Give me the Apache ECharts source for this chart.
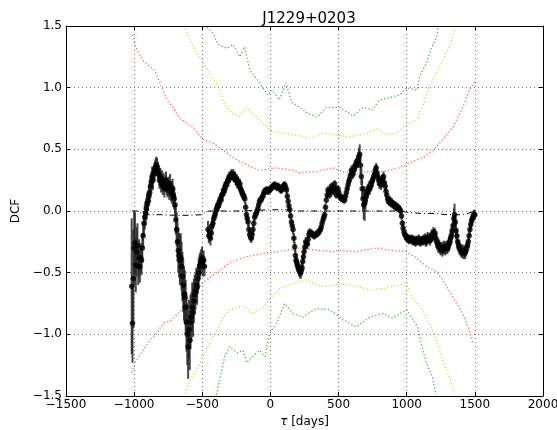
<!DOCTYPE html>
<html>
<head>
<meta charset="utf-8">
<script src="https://cdn.jsdelivr.net/npm/echarts@6/dist/echarts.min.js"></script>
<style>html,body{margin:0;padding:0;background:#fff}#c{width:557px;height:430px}</style>
</head>
<body>
<div id="c"></div>
<script>
// ---- data ----
const titleText = 'J1229+0203';
const xTicks = [-1500, -1000, -500, 0, 500, 1000, 1500, 2000];
const yTicks = [-1.5, -1.0, -0.5, 0.0, 0.5, 1.0, 1.5];

// [tau (days), DCF, error]
const dcfData = [
[-1018,-0.61,0.55],[-1012,-0.91,0.32],[-1006,-0.55,0.4],[-1000,-0.3,0.3],[-994,-0.26,0.25],[-988,-0.44,0.22],[-982,-0.33,0.2],[-976,-0.28,0.18],[-970,-0.45,0.15],[-964,-0.38,0.15],[-958,-0.45,0.13],[-952,-0.38,0.12],[-946,-0.4,0.12],[-940,-0.3,0.12],[-934,-0.2,0.1],[-928,-0.1,0.1],[-922,-0.05,0.1],[-916,-0.02,0.1],[-910,0.02,0.09],[-904,0.06,0.09],
[-898,0.08,0.08],[-892,0.12,0.08],[-886,0.15,0.08],[-880,0.2,0.08],[-874,0.24,0.08],[-868,0.28,0.08],[-862,0.25,0.08],[-856,0.3,0.07],[-850,0.33,0.07],[-844,0.35,0.07],[-838,0.37,0.07],[-832,0.36,0.07],[-826,0.33,0.07],[-820,0.3,0.07],[-814,0.25,0.07],[-808,0.28,0.07],[-802,0.22,0.07],[-796,0.26,0.07],[-790,0.2,0.07],[-784,0.24,0.07],[-778,0.18,0.07],[-772,0.22,0.07],[-766,0.25,0.07],[-760,0.2,0.07],[-754,0.18,0.07],[-748,0.2,0.08],[-742,0.17,0.08],[-736,0.22,0.08],[-730,0.16,0.08],[-724,0.14,0.08],[-718,0.18,0.08],[-712,0.12,0.09],[-706,0.1,0.09],[-700,0.05,0.1],
[-694,-0.07,0.12],[-688,-0.15,0.14],[-682,-0.25,0.16],[-676,-0.32,0.18],[-670,-0.36,0.18],[-664,-0.4,0.2],[-658,-0.38,0.2],[-652,-0.45,0.2],[-646,-0.53,0.2],[-640,-0.6,0.22],[-634,-0.67,0.22],[-628,-0.7,0.22],[-622,-0.78,0.22],[-616,-0.9,0.24],[-610,-1.0,0.25],[-604,-1.1,0.26],[-598,-0.96,0.24],[-592,-1.05,0.24],[-586,-0.9,0.22],[-580,-0.86,0.2],[-574,-0.78,0.2],[-568,-0.82,0.2],[-562,-0.73,0.18],[-556,-0.68,0.16],[-550,-0.65,0.15],[-544,-0.6,0.14],[-538,-0.62,0.14],[-532,-0.55,0.12],[-526,-0.5,0.12],[-520,-0.45,0.1],[-514,-0.43,0.1],[-508,-0.41,0.1],[-502,-0.38,0.09],[-496,-0.44,0.09],[-490,-0.4,0.08],[-484,-0.45,0.08],
[-458,-0.15,0.07],[-452,-0.2,0.06],[-446,-0.17,0.06],[-440,-0.22,0.06],[-434,-0.18,0.05],[-428,-0.12,0.05],[-422,-0.1,0.05],[-416,-0.06,0.05],[-410,-0.04,0.04],[-404,-0.02,0.04],[-398,0.01,0.04],[-392,0.03,0.04],[-386,0.05,0.04],[-380,0.04,0.04],[-374,0.08,0.04],[-368,0.1,0.04],[-362,0.09,0.04],[-356,0.13,0.04],[-350,0.14,0.04],[-344,0.17,0.04],[-338,0.16,0.04],[-332,0.2,0.04],[-326,0.22,0.04],[-320,0.21,0.04],[-314,0.24,0.04],[-308,0.26,0.04],[-302,0.28,0.04],[-296,0.27,0.04],[-290,0.29,0.04],[-284,0.3,0.04],[-278,0.28,0.04],[-272,0.3,0.04],[-266,0.27,0.04],[-260,0.28,0.04],[-254,0.25,0.04],[-248,0.26,0.04],[-242,0.22,0.04],[-236,0.24,0.04],[-230,0.2,0.04],[-224,0.22,0.04],[-218,0.18,0.04],[-212,0.16,0.04],[-206,0.14,0.04],[-200,0.13,0.04],[-194,0.12,0.04],[-188,0.1,0.04],[-182,0.03,0.04],[-176,-0.03,0.04],[-170,-0.06,0.04],[-164,-0.09,0.04],[-158,-0.15,0.04],[-152,-0.19,0.04],[-146,-0.21,0.04],[-140,-0.22,0.04],[-134,-0.19,0.04],[-128,-0.15,0.04],[-122,-0.1,0.03],[-116,-0.05,0.03],[-110,-0.03,0.03],[-104,-0.02,0.03],[-98,0.0,0.03],[-92,0.02,0.03],[-86,0.05,0.03],[-80,0.08,0.03],[-74,0.09,0.03],[-68,0.09,0.03],[-62,0.11,0.03],[-56,0.12,0.03],[-50,0.14,0.03],[-44,0.16,0.03],[-38,0.16,0.03],[-32,0.17,0.03],[-26,0.17,0.03],[-20,0.16,0.03],[-14,0.16,0.03],[-8,0.17,0.03],[-2,0.18,0.03],
[4,0.18,0.03],[10,0.19,0.03],[16,0.2,0.03],[22,0.2,0.03],[28,0.21,0.03],[34,0.21,0.03],[40,0.2,0.03],[46,0.19,0.03],[52,0.2,0.03],[58,0.2,0.03],[64,0.19,0.03],[70,0.18,0.03],[76,0.17,0.03],[82,0.17,0.03],[88,0.19,0.03],[94,0.2,0.03],[100,0.21,0.03],[106,0.21,0.03],[112,0.19,0.03],[118,0.17,0.03],[124,0.12,0.03],[130,0.08,0.03],[136,0.04,0.03],[142,0.01,0.03],[148,-0.04,0.03],[154,-0.09,0.03],[160,-0.12,0.04],[166,-0.15,0.04],[172,-0.22,0.04],[178,-0.29,0.04],[183,-0.36,0.05],[188,-0.4,0.05],[193,-0.42,0.05],[198,-0.44,0.05],[204,-0.46,0.05],[210,-0.48,0.05],[216,-0.49,0.05],[222,-0.5,0.05],[227,-0.48,0.05],[232,-0.46,0.05],[237,-0.41,0.04],[242,-0.37,0.04],[247,-0.33,0.04],[253,-0.29,0.04],[259,-0.25,0.04],[265,-0.26,0.04],[271,-0.27,0.04],[277,-0.23,0.04],[283,-0.19,0.03],[288,-0.17,0.03],[294,-0.18,0.03],[300,-0.18,0.03],[306,-0.19,0.03],[312,-0.19,0.03],[318,-0.2,0.03],[325,-0.2,0.03],[331,-0.19,0.03],[337,-0.19,0.03],[343,-0.18,0.03],[349,-0.18,0.03],[355,-0.17,0.03],[361,-0.16,0.03],[367,-0.15,0.03],[373,-0.13,0.03],[379,-0.1,0.03],[386,-0.07,0.03],[392,-0.05,0.03],[398,-0.03,0.03],[404,0.03,0.03],[410,0.09,0.03],[416,0.13,0.03],[422,0.17,0.03],[428,0.15,0.03],[435,0.13,0.03],[441,0.17,0.03],[447,0.2,0.03],[453,0.18,0.03],[459,0.16,0.03],[465,0.19,0.03],[471,0.22,0.03],[477,0.18,0.03],[483,0.13,0.03],[490,0.16,0.03],[496,0.18,0.03],
[502,0.15,0.03],[508,0.12,0.03],[514,0.11,0.03],[520,0.1,0.03],[526,0.11,0.03],[532,0.1,0.03],[538,0.09,0.03],[545,0.09,0.03],[551,0.12,0.03],[557,0.15,0.03],[563,0.18,0.03],[569,0.21,0.04],[575,0.24,0.04],[581,0.26,0.04],[587,0.29,0.04],[594,0.33,0.04],[600,0.31,0.04],[606,0.3,0.04],[612,0.33,0.05],[618,0.36,0.05],[624,0.37,0.05],[630,0.38,0.05],[637,0.4,0.05],[643,0.41,0.06],[649,0.44,0.07],[655,0.46,0.08],[661,0.37,0.07],[667,0.28,0.07],[673,0.18,0.08],[679,0.1,0.1],[685,0.05,0.12],[691,0.06,0.14],[697,0.09,0.08],[704,0.12,0.06],[710,0.15,0.05],[716,0.17,0.05],[722,0.19,0.05],[728,0.18,0.05],[734,0.2,0.05],[740,0.21,0.04],[746,0.24,0.04],[752,0.26,0.04],[758,0.28,0.04],[764,0.3,0.04],[770,0.33,0.04],[776,0.35,0.04],[782,0.31,0.04],[788,0.28,0.04],[794,0.25,0.04],[800,0.22,0.04],[806,0.24,0.04],[812,0.21,0.04],[818,0.24,0.04],[824,0.26,0.04],[830,0.28,0.04],[836,0.23,0.04],[842,0.2,0.04],[848,0.16,0.04],[854,0.13,0.03],[860,0.1,0.03],[866,0.08,0.03],[872,0.07,0.03],[878,0.09,0.03],[884,0.06,0.03],[890,0.07,0.03],[896,0.05,0.03],[902,0.06,0.03],[908,0.04,0.03],[914,0.05,0.03],[920,0.03,0.03],[926,0.04,0.03],[932,0.02,0.03],[938,0.03,0.03],[944,0.02,0.03],[950,0.01,0.03],[956,0.0,0.03],[962,-0.04,0.03],[968,-0.1,0.03],[974,-0.14,0.03],[980,-0.17,0.03],[986,-0.19,0.03],[992,-0.2,0.03],[998,-0.22,0.03],
[1004,-0.21,0.03],[1010,-0.23,0.03],[1016,-0.24,0.03],[1022,-0.22,0.03],[1028,-0.23,0.03],[1034,-0.24,0.03],[1040,-0.22,0.03],[1046,-0.25,0.03],[1052,-0.23,0.03],[1058,-0.24,0.03],[1064,-0.26,0.03],[1070,-0.23,0.03],[1076,-0.24,0.03],[1082,-0.25,0.03],[1088,-0.22,0.03],[1094,-0.24,0.03],[1100,-0.26,0.03],[1106,-0.24,0.03],[1112,-0.23,0.03],[1118,-0.25,0.03],[1124,-0.23,0.04],[1130,-0.24,0.04],[1136,-0.22,0.04],[1142,-0.25,0.04],[1148,-0.24,0.04],[1154,-0.21,0.04],[1160,-0.23,0.04],[1166,-0.22,0.04],[1172,-0.24,0.04],[1178,-0.22,0.04],[1184,-0.19,0.04],[1190,-0.21,0.04],[1196,-0.17,0.04],[1202,-0.2,0.04],[1208,-0.18,0.04],[1214,-0.22,0.04],[1220,-0.25,0.05],[1226,-0.27,0.05],[1232,-0.29,0.05],[1238,-0.28,0.05],[1244,-0.3,0.05],[1250,-0.31,0.05],[1256,-0.3,0.05],[1262,-0.32,0.05],[1268,-0.3,0.05],[1274,-0.29,0.05],[1280,-0.31,0.05],[1286,-0.3,0.05],[1292,-0.29,0.05],[1298,-0.3,0.05],[1304,-0.28,0.05],[1310,-0.27,0.06],[1316,-0.25,0.06],[1322,-0.22,0.06],[1328,-0.2,0.06],[1334,-0.16,0.06],[1340,-0.12,0.07],[1346,-0.06,0.08],[1351,-0.03,0.09],[1356,-0.09,0.08],[1362,-0.16,0.07],[1368,-0.2,0.06],[1374,-0.25,0.06],[1380,-0.28,0.05],[1386,-0.3,0.05],[1392,-0.31,0.05],[1398,-0.32,0.05],[1404,-0.33,0.05],[1410,-0.32,0.05],[1416,-0.34,0.05],[1422,-0.33,0.05],[1428,-0.34,0.05],[1434,-0.32,0.05],[1440,-0.3,0.05],[1446,-0.28,0.05],[1452,-0.25,0.05],[1458,-0.2,0.05],[1464,-0.15,0.05],[1470,-0.11,0.05],[1476,-0.08,0.04],[1482,-0.06,0.04],[1488,-0.04,0.04],[1494,-0.03,0.04],[1500,-0.03,0.04]
];

// mean of simulated DCFs (dash-dot)
const meanLine = [[-1015,0.0],[-960,0.0],[-950,-0.02],[-900,-0.03],[-800,-0.03],[-700,-0.035],[-600,-0.035],[-500,-0.03],[-480,-0.01],[-450,0.0],[-300,0.0],[-200,0.0],[-100,0.005],[0,0.01],[100,0.01],[200,0.0],[400,0.0],[600,0.0],[800,0.0],[960,0.0],[1000,-0.01],[1100,-0.02],[1200,-0.02],[1300,-0.03],[1400,-0.03],[1450,-0.02],[1500,0.0]];

const redUpper = [[-1015,1.43],[-980,1.31],[-935,1.22],[-850,1.14],[-810,1.04],[-760,0.9],[-715,0.84],[-665,0.75],[-570,0.68],[-495,0.58],[-420,0.55],[-320,0.47],[-225,0.4],[-80,0.33],[45,0.35],[165,0.33],[215,0.31],[340,0.32],[460,0.35],[530,0.32],[630,0.3],[705,0.32],[825,0.32],[950,0.35],[1020,0.39],[1115,0.43],[1190,0.49],[1265,0.58],[1340,0.68],[1410,0.84],[1460,0.98],[1500,1.05]];
const redLower = [[-1015,-1.31],[-995,-1.23],[-945,-1.15],[-885,-1.05],[-835,-0.99],[-785,-0.91],[-735,-0.89],[-665,-0.82],[-615,-0.72],[-540,-0.64],[-495,-0.58],[-395,-0.5],[-300,-0.42],[-175,-0.37],[-30,-0.34],[115,-0.32],[215,-0.3],[340,-0.32],[460,-0.33],[510,-0.32],[630,-0.33],[775,-0.3],[895,-0.32],[1000,-0.33],[1070,-0.38],[1145,-0.45],[1215,-0.49],[1265,-0.56],[1340,-0.7],[1410,-0.83],[1460,-0.97],[1485,-1.07]];
const yellowUpper = [[-625,1.48],[-580,1.36],[-505,1.22],[-430,1.09],[-370,0.98],[-335,0.86],[-275,0.79],[-225,0.77],[-175,0.84],[-130,0.79],[-55,0.71],[15,0.64],[115,0.63],[215,0.61],[290,0.59],[385,0.63],[460,0.62],[580,0.6],[705,0.63],[785,0.67],[850,0.62],[925,0.63],[1000,0.7],[1075,0.74],[1115,0.84],[1165,1.01],[1220,1.12],[1265,1.22],[1315,1.33],[1350,1.47]];
const yellowLower = [[-625,-1.48],[-590,-1.37],[-540,-1.29],[-495,-1.18],[-445,-1.07],[-395,-0.97],[-350,-0.87],[-300,-0.8],[-245,-0.78],[-200,-0.77],[-130,-0.83],[-55,-0.78],[-5,-0.71],[70,-0.63],[165,-0.59],[265,-0.56],[340,-0.6],[410,-0.61],[510,-0.59],[630,-0.61],[730,-0.64],[825,-0.63],[895,-0.61],[1000,-0.59],[1045,-0.71],[1115,-0.8],[1165,-0.91],[1220,-1.05],[1265,-1.21],[1315,-1.35],[1350,-1.48]];
const greenUpper = [[-465,1.49],[-420,1.44],[-385,1.35],[-320,1.32],[-275,1.35],[-225,1.25],[-190,1.33],[-150,1.14],[-80,1.04],[-20,0.94],[15,0.98],[65,0.9],[115,1.04],[155,0.88],[215,0.84],[265,0.8],[340,0.76],[410,0.84],[510,0.84],[605,0.77],[680,0.84],[750,0.82],[800,0.9],[875,0.92],[950,0.94],[1000,1.0],[1075,0.98],[1095,1.09],[1145,1.2],[1180,1.32],[1220,1.41],[1230,1.49]];
const greenLower = [[-395,-1.49],[-370,-1.35],[-335,-1.18],[-300,-1.1],[-245,-1.15],[-200,-1.13],[-175,-1.23],[-130,-1.18],[-80,-1.13],[-40,-1.18],[-5,-0.99],[45,-0.91],[105,-0.75],[165,-0.83],[235,-0.86],[340,-0.79],[435,-0.8],[530,-0.88],[630,-0.94],[730,-0.86],[825,-0.83],[895,-0.87],[1000,-0.8],[1045,-0.88],[1080,-0.94],[1105,-1.07],[1130,-1.18],[1165,-1.29],[1190,-1.35],[1215,-1.49]];

// ---- chart ----
const FONT = 'DejaVu Sans';
const fmt = v => {
  const s = Math.abs(v) < 1e-9 ? '0' : String(v);
  return s.replace('-', '\u2212');
};
const fmtY = v => {
  const s = Math.abs(v) < 1e-9 ? '0.0' : v.toFixed(1);
  return s.replace('-', '\u2212');
};

const chart = echarts.init(document.getElementById('c'), null, {renderer: 'canvas'});

function dotted(name, data, color) {
  return {
    name, type: 'line', data, xAxisIndex: 0, yAxisIndex: 0,
    showSymbol: false, symbol: 'none', smooth: false, clip: true,
    lineStyle: {color, width: 1.3, type: [1.3, 2.2]},
    silent: true, animation: false, z: 2
  };
}

const option = {
  animation: false,
  backgroundColor: '#fff',
  title: {
    text: titleText, left: 304, top: 7, textAlign: 'center',
    textStyle: {fontFamily: FONT, fontSize: 15, fontWeight: 'normal', color: '#000'}
  },
  grid: {left: 66, right: 14, top: 26, bottom: 34, containLabel: false, outerBoundsMode: 'none'},
  xAxis: [{
    type: 'value', min: xTicks[0], max: xTicks[xTicks.length - 1], interval: 500,
    position: 'bottom',
    name: '{i|τ} [days]', nameLocation: 'middle', nameGap: 20,
    nameTextStyle: {fontFamily: FONT, fontSize: 12, color: '#000',
      rich: {i: {fontFamily: FONT, fontSize: 12, fontStyle: 'italic', color: '#000'}}},
    axisLine: {show: true, onZero: false, lineStyle: {color: '#000', width: 1}},
    axisTick: {show: true, inside: true, length: 4, lineStyle: {color: '#000'}},
    axisLabel: {fontFamily: FONT, fontSize: 12, color: '#000', margin: 3, formatter: fmt, showMinLabel: true, showMaxLabel: true, hideOverlap: false},
    splitLine: {show: true, lineStyle: {color: '#555', width: 0.8, type: [1, 3]}}
  }, {
    type: 'value', min: xTicks[0], max: xTicks[xTicks.length - 1], interval: 500,
    position: 'top',
    axisLine: {show: true, onZero: false, lineStyle: {color: '#000', width: 1}},
    axisTick: {show: true, inside: true, length: 4, lineStyle: {color: '#000'}},
    axisLabel: {show: false}, splitLine: {show: false}
  }],
  yAxis: [{
    type: 'value', min: yTicks[0], max: yTicks[yTicks.length - 1], interval: 0.5,
    position: 'left',
    name: 'DCF', nameLocation: 'middle', nameGap: 38,
    nameTextStyle: {fontFamily: FONT, fontSize: 12, color: '#000'},
    axisLine: {show: true, onZero: false, lineStyle: {color: '#000', width: 1}},
    axisTick: {show: true, inside: true, length: 4, lineStyle: {color: '#000'}},
    axisLabel: {fontFamily: FONT, fontSize: 12, color: '#000', margin: 4, formatter: fmtY, showMinLabel: true, showMaxLabel: true, hideOverlap: false},
    splitLine: {show: true, lineStyle: {color: '#555', width: 0.8, type: [1, 3]}}
  }, {
    type: 'value', min: yTicks[0], max: yTicks[yTicks.length - 1], interval: 0.5,
    position: 'right',
    axisLine: {show: true, onZero: false, lineStyle: {color: '#000', width: 1}},
    axisTick: {show: true, inside: true, length: 4, lineStyle: {color: '#000'}},
    axisLabel: {show: false}, splitLine: {show: false}
  }],
  series: [
    dotted('red+', redUpper, 'rgba(255,40,40,0.7)'),
    dotted('red-', redLower, 'rgba(255,40,40,0.7)'),
    dotted('yel+', yellowUpper, 'rgba(205,205,30,0.8)'),
    dotted('yel-', yellowLower, 'rgba(205,205,30,0.8)'),
    dotted('grn+', greenUpper, 'rgba(30,150,30,0.75)'),
    dotted('grn-', greenLower, 'rgba(30,150,30,0.75)'),
    {
      name: 'mean', type: 'line', data: meanLine, showSymbol: false, symbol: 'none',
      lineStyle: {color: '#000', width: 1, type: [6, 3, 1, 3]}, z: 3, silent: true
    },
    {
      name: 'err', type: 'custom', clip: true, z: 4, silent: true,
      data: dcfData,
      renderItem: function (params, api) {
        const x = api.value(0), y = api.value(1), e = api.value(2);
        const p1 = api.coord([x, y - e]);
        const p2 = api.coord([x, y + e]);
        return {
          type: 'line',
          shape: {x1: p1[0], y1: p1[1], x2: p2[0], y2: p2[1]},
          style: {stroke: 'rgba(40,40,40,0.85)', lineWidth: 2}
        };
      }
    },
    {
      name: 'dcf', type: 'scatter', data: dcfData.map(d => [d[0], d[1]]),
      symbol: 'circle', symbolSize: 5.5, itemStyle: {color: '#000'}, z: 5, silent: true
    }
  ]
};
chart.setOption(option);
</script>
</body>
</html>
